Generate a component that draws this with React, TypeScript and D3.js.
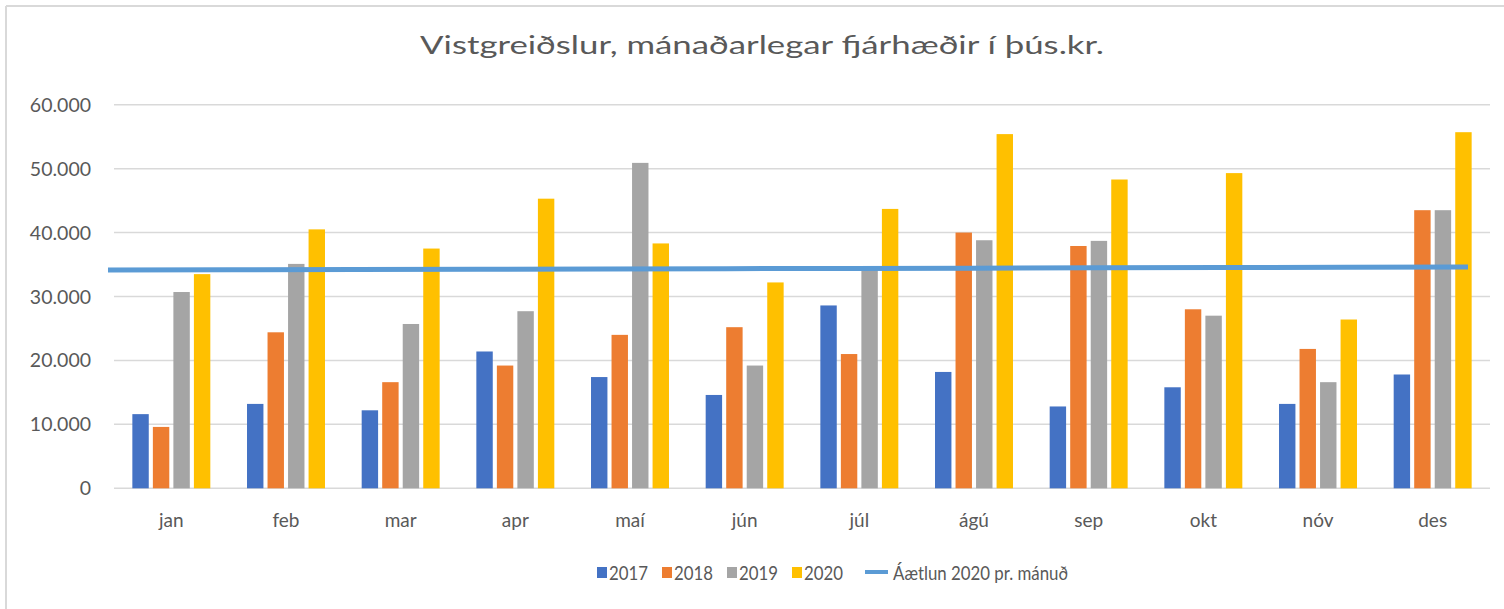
import React from "react";
import * as d3 from "d3";

const months = ["jan", "feb", "mar", "apr", "maí", "jún", "júl", "ágú", "sep", "okt", "nóv", "des"];
const seriesNames = ["2017", "2018", "2019", "2020"];
const v2017 = [11600, 13200, 12200, 21400, 17400, 14600, 28600, 18200, 12800, 15800, 13200, 17800];
const v2018 = [9600, 24400, 16600, 19200, 24000, 25200, 21000, 40000, 37900, 28000, 21800, 43500];
const v2019 = [30700, 35100, 25700, 27700, 50900, 19200, 34500, 38800, 38700, 27000, 16600, 43500];
const v2020 = [33500, 40500, 37500, 45300, 38300, 32200, 43700, 55400, 48300, 49300, 26400, 55700];
const budget = [34150, 34190, 34230, 34270, 34310, 34350, 34390, 34430, 34480, 34520, 34560, 34600];
const yTicks = [0, 10000, 20000, 30000, 40000, 50000, 60000];
const lineLabel = "Áætlun 2020 pr. mánuð";
const title = "Vistgreiðslur, mánaðarlegar fjárhæðir í þús.kr.";

const colors = ["#4472C4", "#ED7D31", "#A5A5A5", "#FFC000"];
const lineColor = "#5B9BD5";
const textColor = "#595959";
const font = "Lato, 'Open Sans', sans-serif";

export default function App() {
  const W = 1504, H = 609;
  const left = 114, right = 1490, top = 104.7, bottom = 488.3;
  const allSeries = [v2017, v2018, v2019, v2020];

  const y = d3.scaleLinear().domain([0, 60000]).range([bottom, top]);
  const x0 = d3.scaleBand<string>().domain(months).range([left, right]).paddingInner(0.32).paddingOuter(0.16);
  const x1 = d3.scaleBand<string>().domain(seriesNames).range([0, x0.bandwidth()]).paddingInner(0.2);
  const xl = d3.scalePoint<string>().domain(months).range([108, 1468]);
  const fmt = (v: number) => (v === 0 ? "0" : d3.format(",")(v).replace(/,/g, "."));

  const line = d3.line<number>().x((_, i) => xl(months[i])!).y((d) => y(d));

  const legendItems = [
    { x: 597, label: "2017", c: colors[0] },
    { x: 662, label: "2018", c: colors[1] },
    { x: 727, label: "2019", c: colors[2] },
    { x: 792, label: "2020", c: colors[3] },
  ];

  return (
    <svg width={W} height={H} style={{ position: "absolute", left: 0, top: 0, background: "#fff" }}>
      <rect x={0} y={0} width={W} height={H} fill="#fff" />
      <line x1={6} y1={6} x2={W} y2={6} stroke="#d9d9d9" strokeWidth={2} />
      <line x1={6} y1={6} x2={6} y2={H} stroke="#d9d9d9" strokeWidth={2} />
      <text x={420} y={54} textLength={684} lengthAdjust="spacingAndGlyphs" fontFamily={font} fontSize={25.5} fill={textColor}>{title}</text>
      {yTicks.map((t) => (
        <g key={t}>
          <line x1={left} x2={right} y1={y(t)} y2={y(t)} stroke="#d9d9d9" strokeWidth={1.5} />
          <text x={91} y={y(t)} dy="0.36em" textAnchor="end" fontFamily={font} fontSize={19.5} fill={textColor}>{fmt(t)}</text>
        </g>
      ))}
      {months.map((m, i) => (
        <g key={m}>
          {allSeries.map((s, j) => (
            <rect key={j} x={x0(m)! + x1(seriesNames[j])!} y={y(s[i])} width={x1.bandwidth()} height={bottom - y(s[i])} fill={colors[j]} />
          ))}
          <text x={x0(m)! + x0.bandwidth() / 2} y={527} textAnchor="middle" fontFamily={font} fontSize={19} fill={textColor}>{m}</text>
        </g>
      ))}
      <path d={line(budget)!} fill="none" stroke={lineColor} strokeWidth={5} />
      {legendItems.map((it) => (
        <g key={it.label}>
          <rect x={it.x} y={567} width={10} height={11} fill={it.c} />
          <text x={it.x + 12} y={580} textLength={39} lengthAdjust="spacingAndGlyphs" fontFamily={font} fontSize={19} fill={textColor}>{it.label}</text>
        </g>
      ))}
      <line x1={865} x2={888} y1={572} y2={572} stroke={lineColor} strokeWidth={4} />
      <text x={893} y={580} textLength={175} lengthAdjust="spacingAndGlyphs" fontFamily={font} fontSize={19} fill={textColor}>{lineLabel}</text>
    </svg>
  );
}
